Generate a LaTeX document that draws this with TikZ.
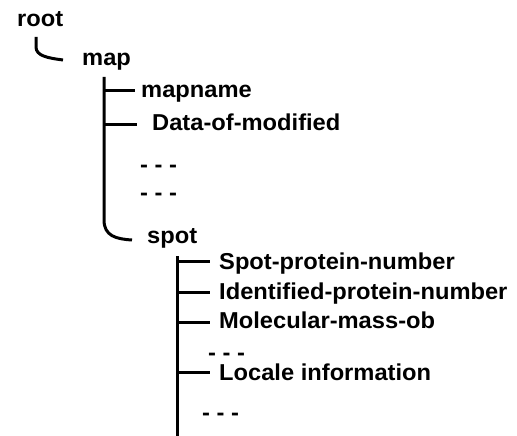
\documentclass[tikz,border=0pt]{standalone}
\usepackage{fontspec}
\setmainfont{Liberation Sans}
\newfontfamily\treefont[FakeStretch=1.03]{Liberation Sans}
\begin{document}
\begin{tikzpicture}[x=1pt,y=-1pt,
  lbl/.style={anchor=base west,inner sep=0pt,font=\treefont\fontsize{23}{27}\selectfont\bfseries},
  trunk/.style={line width=3pt,line cap=butt},
  stub/.style={line width=3pt,line cap=butt}]
\useasboundingbox (0,0) rectangle (517,436);

% labels
\node[lbl] (root) at (17,27) {root};
\node[lbl] (map) at (82,66) {map};
\node[lbl] (mapname) at (141,97) {mapname};
\node[lbl] (dom) at (152,130) {Data-of-modified};
\node[lbl] (d1) at (140,172) {- - -};
\node[lbl] (d2) at (140,200) {- - -};
\node[lbl] (spot) at (147,243) {spot};
\node[lbl] (spn) at (219,269) {Spot-protein-number};
\node[lbl] (ipn) at (219,299) {Identified-protein-number};
\node[lbl] (mmo) at (219,328) {Molecular-mass-ob};
\node[lbl] (d3) at (208,360) {- - -};
\node[lbl] (loc) at (219,380) {Locale information};
\node[lbl] (d4) at (202,420) {- - -};

% root -> map
\coordinate (r0) at (36,37);
\coordinate (r1) at (63,60);
\draw[trunk] (r0) -- (36,47) .. controls (36,56) and (48,58) .. (r1);

% map subtree
\coordinate (m0) at (104,77);
\coordinate (m1) at (132,240);
\draw[trunk] (m0) -- (104,220) .. controls (104,236) and (116,239) .. (m1);
\coordinate (mn) at (135,91);
\coordinate (dm) at (137,124);
\draw[stub] (m0 |- mn) -- (mn);
\draw[stub] (m0 |- dm) -- (dm);

% spot subtree
\coordinate (s0) at (177,256);
\coordinate (s1) at (177,436);
\draw[trunk] (s0) -- (s1);
\coordinate (a1) at (210,261);
\coordinate (a2) at (210,292);
\coordinate (a3) at (210,322);
\coordinate (a4) at (210,372);
\foreach \c in {a1,a2,a3,a4} \draw[stub] (s0 |- \c) -- (\c);
\end{tikzpicture}
\end{document}
